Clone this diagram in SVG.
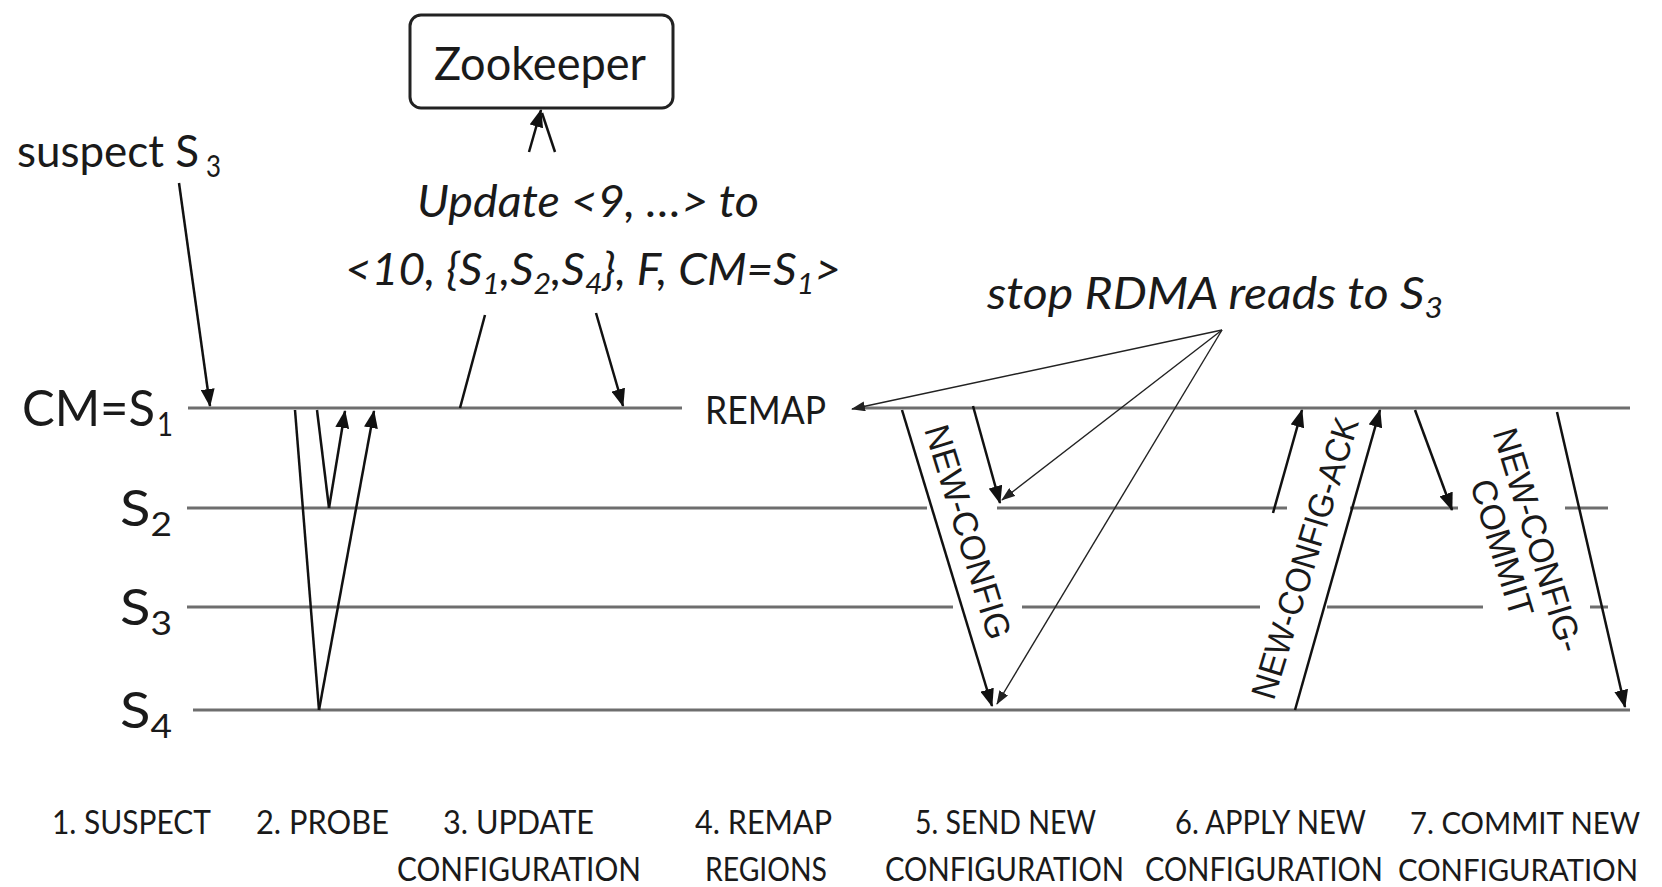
<svg xmlns="http://www.w3.org/2000/svg" width="1662" height="887" viewBox="0 0 1662 887">
  <style>
    text { font-family: Lato, "Liberation Sans", Arial, sans-serif; fill: #1a1a1a; }
    .it { font-style: italic; font-size: 44px; }
    .sb { font-size: 66%; }
    .lane { font-size: 50px; }
    .step { font-size: 33px; }
    .step-r { font-size: 31px; }
    .rot { font-family: "Liberation Sans", Arial, sans-serif; font-size: 35px; }
    .life { stroke: #6e6e6e; stroke-width: 3; fill: none; }
    .msg { stroke: #111; stroke-width: 2.5; fill: none; }
    .arr { marker-end: url(#head); }
    .thin { stroke: #222; stroke-width: 1.4; fill: none; marker-end: url(#headThin); }
    .box { fill: #fff; stroke: #222; stroke-width: 3; }
  </style>
  <defs>
    <marker id="head" markerUnits="userSpaceOnUse" markerWidth="18" markerHeight="14" refX="17" refY="7" orient="auto">
      <path d="M0,0 L18,7 L0,14 Z" fill="#111"/>
    </marker>
    <marker id="headThin" markerUnits="userSpaceOnUse" markerWidth="14" markerHeight="10" refX="13" refY="5" orient="auto">
      <path d="M0,0 L14,5 L0,10 Z" fill="#222"/>
    </marker>
  </defs>

  <rect width="1662" height="887" fill="#fff"/>

  <!-- server timelines -->
  <g id="lifelines" class="life">
    <path d="M188,408 H682 M858,408 H1630"/>
    <path d="M187,508 H927 M997,508 H1287 M1350,508 H1458 M1565,508 H1608"/>
    <path d="M187,607 H953 M1022,607 H1260 M1327,607 H1483 M1590,607 H1608"/>
    <path d="M193,710 H1630"/>
  </g>

  <g id="lane-labels">
    <text class="lane" x="22" y="426" textLength="133" lengthAdjust="spacingAndGlyphs">CM=S</text>
    <text x="157" y="436" font-size="33" textLength="16" lengthAdjust="spacingAndGlyphs">1</text>
    <text class="lane" x="120" y="526" textLength="52" lengthAdjust="spacingAndGlyphs">S<tspan class="sb" dy="10">2</tspan></text>
    <text class="lane" x="120" y="625" textLength="52" lengthAdjust="spacingAndGlyphs">S<tspan class="sb" dy="10">3</tspan></text>
    <text class="lane" x="120" y="728" textLength="52" lengthAdjust="spacingAndGlyphs">S<tspan class="sb" dy="10">4</tspan></text>
  </g>

  <g id="zookeeper">
    <rect class="box" x="410" y="15" width="263" height="93" rx="11"/>
    <text x="434" y="80" font-size="46" textLength="212" lengthAdjust="spacingAndGlyphs">Zookeeper</text>
  </g>

  <g id="suspect-note">
    <text x="17" y="167" font-size="45" textLength="182" lengthAdjust="spacingAndGlyphs">suspect S</text>
    <text x="206" y="177" font-size="30" textLength="15" lengthAdjust="spacingAndGlyphs">3</text>
  </g>

  <g id="update-note">
    <text class="it" x="417" y="217" textLength="342" lengthAdjust="spacingAndGlyphs">Update &lt;9, …&gt; to</text>
    <text class="it" x="345" y="285" textLength="496" lengthAdjust="spacingAndGlyphs">&lt;10, {S<tspan class="sb" dy="9">1</tspan><tspan dy="-9">,S</tspan><tspan class="sb" dy="9">2</tspan><tspan dy="-9">,S</tspan><tspan class="sb" dy="9">4</tspan><tspan dy="-9">}, F, CM=S</tspan><tspan class="sb" dy="9">1</tspan><tspan dy="-9">&gt;</tspan></text>
  </g>

  <g id="remap">
    <text x="705" y="424" font-size="38" textLength="121" lengthAdjust="spacingAndGlyphs">REMAP</text>
  </g>

  <g id="stop-note">
    <text class="it" x="987" y="309" textLength="456" lengthAdjust="spacingAndGlyphs">stop RDMA reads to S<tspan class="sb" dy="9">3</tspan></text>
  </g>

  <g id="message-labels">
    <g transform="translate(968,532) rotate(73)">
      <text class="rot" x="-111" y="12" textLength="222" lengthAdjust="spacingAndGlyphs">NEW-CONFIG</text>
    </g>
    <g transform="translate(1305,558) rotate(-73)">
      <text class="rot" x="-146" y="12" textLength="292" lengthAdjust="spacingAndGlyphs">NEW-CONFIG-ACK</text>
    </g>
    <g transform="translate(1538,540) rotate(73)">
      <text class="rot" x="-116" y="12" textLength="232" lengthAdjust="spacingAndGlyphs">NEW-CONFIG-</text>
    </g>
    <g transform="translate(1502,548) rotate(73)">
      <text class="rot" x="-71" y="12" textLength="142" lengthAdjust="spacingAndGlyphs">COMMIT</text>
    </g>
  </g>

  <g id="connectors">
    <!-- suspect -->
    <path class="msg arr" d="M179,183 L210,406"/>
    <!-- probe -->
    <path class="msg" d="M295,410 L319,710"/>
    <path class="msg arr" d="M319,710 L374,411"/>
    <path class="msg" d="M317,410 L329,508"/>
    <path class="msg arr" d="M329,508 L345,411"/>
    <!-- update configuration -->
    <path class="msg arr" d="M529,152 L541,110"/>
    <path class="msg" d="M555,152 L542,113"/>
    <path class="msg" d="M485,315 L460,408"/>
    <path class="msg arr" d="M596,313 L623,406"/>
    <!-- stop RDMA reads -->
    <path class="thin" d="M1222,330 L852,409"/>
    <path class="thin" d="M1222,330 L1002,500"/>
    <path class="thin" d="M1222,330 L997,704"/>
    <!-- send new configuration -->
    <path class="msg arr" d="M902,410 L992,706"/>
    <path class="msg arr" d="M973,406 L1000,503"/>
    <!-- apply new configuration -->
    <path class="msg arr" d="M1273,513 L1302,410"/>
    <path class="msg arr" d="M1295,710 L1380,410"/>
    <!-- commit new configuration -->
    <path class="msg arr" d="M1415,410 L1452,510"/>
    <path class="msg arr" d="M1557,412 L1625,707"/>
  </g>

  <g id="steps">
    <text class="step" x="52" y="834" textLength="159" lengthAdjust="spacingAndGlyphs">1. SUSPECT</text>
    <text class="step" x="256" y="834" textLength="133" lengthAdjust="spacingAndGlyphs">2. PROBE</text>
    <text class="step" x="443" y="834" textLength="151" lengthAdjust="spacingAndGlyphs">3. UPDATE</text>
    <text class="step" x="397" y="881" textLength="244" lengthAdjust="spacingAndGlyphs">CONFIGURATION</text>
    <text class="step" x="695" y="834" textLength="137" lengthAdjust="spacingAndGlyphs">4. REMAP</text>
    <text class="step" x="705" y="881" textLength="122" lengthAdjust="spacingAndGlyphs">REGIONS</text>
    <text class="step" x="915" y="834" textLength="181" lengthAdjust="spacingAndGlyphs">5. SEND NEW</text>
    <text class="step" x="885" y="881" textLength="239" lengthAdjust="spacingAndGlyphs">CONFIGURATION</text>
    <text class="step" x="1175" y="834" textLength="191" lengthAdjust="spacingAndGlyphs">6. APPLY NEW</text>
    <text class="step" x="1145" y="881" textLength="238" lengthAdjust="spacingAndGlyphs">CONFIGURATION</text>
    <text class="step-r" x="1410" y="834" textLength="230" lengthAdjust="spacingAndGlyphs">7. COMMIT NEW</text>
    <text class="step-r" x="1398" y="881" textLength="240" lengthAdjust="spacingAndGlyphs">CONFIGURATION</text>
  </g>
</svg>
